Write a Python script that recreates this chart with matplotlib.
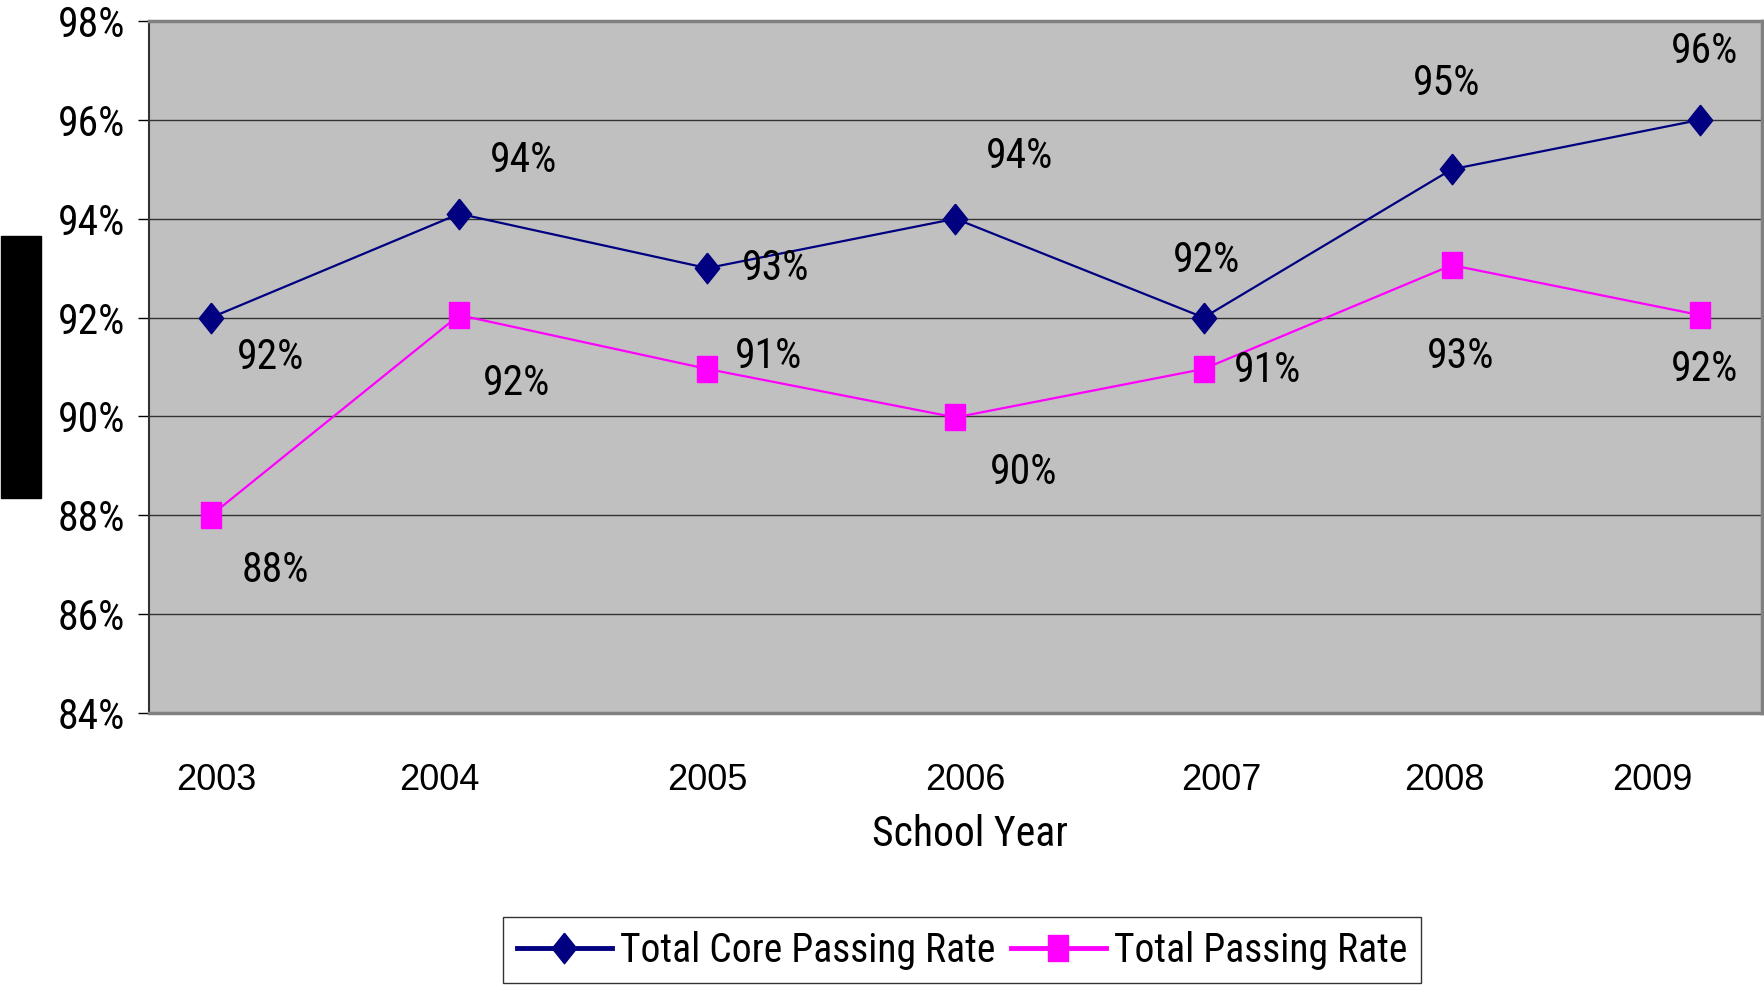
import numpy as np
import matplotlib.pyplot as plt
from matplotlib.lines import Line2D
from matplotlib.patches import Rectangle
from matplotlib.ticker import PercentFormatter

# Dados
anos = ['2003', '2004', '2005', '2006', '2007', '2008', '2009']
core = [92.0, 94.1, 93.0, 94.0, 92.0, 95.0, 96.0]
total = [88.0, 92.05, 90.96, 89.98, 90.96, 93.06, 92.05]
core_rot = ['92%', '94%', '93%', '94%', '92%', '95%', '96%']
total_rot = ['88%', '92%', '91%', '90%', '91%', '93%', '92%']

# deslocamento dos rotulos (pontos)
core_off = [(43, -29), (46, 38), (49, 0), (46, 45), (2, 41), (-4, 62), (3, 49)]
total_off = [(46, -40), (41, -49), (44, 9), (49, -40), (46, -1), (6, -66), (3, -39)]
# deslocamento dos rotulos do eixo x (unidades de categoria)
ano_shift = [0.02, -0.08, 0.0, 0.04, 0.07, -0.03, -0.19]

estreita = ['Roboto Condensed', 'Liberation Sans', 'DejaVu Sans']
normal = ['Liberation Sans', 'DejaVu Sans']

azul = '#000080'
rosa = '#FF00FF'

losango = [(0, 1), (0.8, 0), (0, -1), (-0.8, 0), (0, 1)]
quadrado = [(-0.78, -1), (0.78, -1), (0.78, 1), (-0.78, 1), (-0.78, -1)]

fig = plt.figure(figsize=(17.65, 9.89), dpi=100)
ax = fig.add_axes([149/1765, 1 - 713/989, 1613/1765, 692/989])
ax.set_facecolor('#C0C0C0')

x = np.arange(len(anos))
ax.plot(x, core, color=azul, lw=1.6, marker=losango, ms=22, zorder=3)
ax.plot(x, total, color=rosa, lw=1.6, marker=quadrado, ms=19, zorder=3)

for i in range(len(anos)):
    ax.annotate(core_rot[i], (x[i], core[i]), xytext=core_off[i], textcoords='offset points',
                ha='center', va='center', fontsize=30, family=estreita, zorder=4)
    ax.annotate(total_rot[i], (x[i], total[i]), xytext=total_off[i], textcoords='offset points',
                ha='center', va='center', fontsize=30, family=estreita, zorder=4)

# Limites
ax.set_xlim(-0.25, 6.25)
ax.set_ylim(84, 98)
ax.set_yticks(np.arange(84, 99, 2))
ax.yaxis.set_major_formatter(PercentFormatter(decimals=0))
ax.grid(axis='y', color='#333333', lw=1)
ax.set_axisbelow(True)

ax.set_xticks(x + np.array(ano_shift))
ax.set_xticklabels(anos, fontsize=26, family=normal)
ax.tick_params(axis='x', length=0, pad=36)
ax.tick_params(axis='y', length=8, width=1, pad=9, direction='out')
for lb in ax.get_yticklabels():
    lb.set_family(estreita)
    lb.set_fontsize(30)

for s in ['top', 'right', 'bottom']:
    ax.spines[s].set_color('#808080')
    ax.spines[s].set_linewidth(2.5)
ax.spines['left'].set_color('#333333')
ax.spines['left'].set_linewidth(1.5)

fig.text(970/1765, 1 - 835/989, 'School Year', ha='center', va='center', fontsize=30, family=estreita)

# retangulo preto (rotulo do eixo y)
fig.patches.append(Rectangle((1/1765, 1 - 498/989), 40/1765, 262/989,
                             transform=fig.transFigure, color='black', figure=fig))

h1 = Line2D([], [], color=azul, lw=3.5, marker=losango, ms=22)
h2 = Line2D([], [], color=rosa, lw=3.5, marker=quadrado, ms=19)
leg = fig.legend([h1, h2], ['Total Core Passing Rate', 'Total Passing Rate'],
                 loc='center', bbox_to_anchor=(962/1765, 1 - 950/989), ncol=2,
                 prop={'family': estreita, 'size': 28.5}, frameon=True, fancybox=False,
                 edgecolor='black', handlelength=2.4, handletextpad=0.2,
                 columnspacing=0.4, borderpad=0.35)
leg.get_frame().set_linewidth(1)

plt.savefig('out.png', dpi=100)
